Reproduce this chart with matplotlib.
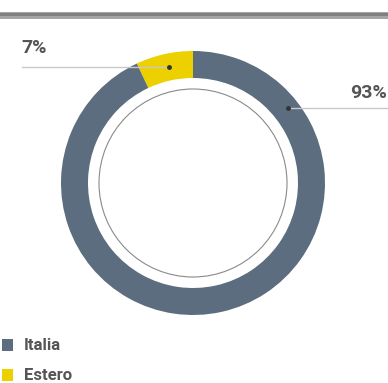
import matplotlib
matplotlib.use('Agg')
import matplotlib.pyplot as plt
from matplotlib.patches import Circle, Rectangle

# Share by destination
categories = ['Estero', 'Italia']
shares = [7, 93]
colors = ['#ecd000', '#5b6d7f']
labels = ['7%', '93%']
legend_order = ['Italia', 'Estero']

W, H = 388, 383
fig = plt.figure(figsize=(W / 100, H / 100), dpi=100)
ax = fig.add_axes([0, 0, 1, 1])
ax.set_xlim(0, W)
ax.set_ylim(0, H)
ax.set_aspect('equal')
ax.axis('off')

# top grey band
ax.add_patch(Rectangle((0, H - 19), W, 7, color='#a5a5a5', lw=0))
ax.add_patch(Rectangle((0, H - 16), W, 3, color='#808080', lw=0))

cx, cy, r = 193, H - 183, 132
wedges, _ = ax.pie(shares, colors=colors, startangle=90, counterclock=True,
                   center=(cx, cy), radius=r,
                   wedgeprops=dict(width=27, linewidth=0))
ax.set_xlim(0, W)
ax.set_ylim(0, H)

# thin inner circle
ax.add_patch(Circle((cx, cy), 94, fill=False, ec='#8a8a8a', lw=0.8))

# leader lines and labels
ax.plot([22, 169], [H - 67, H - 67], color='#c8c8c8', lw=1)
ax.plot([169], [H - 67], 'o', color='#333333', ms=2.5)
ax.text(21, H - 48, labels[0], fontsize=14, fontweight='bold', color='#555555',
        family='Roboto', va='center', ha='left')
ax.plot([288, 388], [H - 108, H - 108], color='#c8c8c8', lw=1)
ax.plot([288], [H - 108], 'o', color='#333333', ms=2.5)
ax.text(387, H - 93, labels[1], fontsize=14, fontweight='bold', color='#555555',
        family='Roboto', va='center', ha='right')

# legend
leg_y = [H - 345, H - 375]
for name, y in zip(legend_order, leg_y):
    c = colors[categories.index(name)]
    ax.add_patch(Rectangle((2, y - 6), 11, 12, color=c, lw=0))
    ax.text(24, y, name, fontsize=12, fontweight='bold', color='#555555',
            family='Roboto', va='center', ha='left')

fig.savefig('out.png', dpi=100)
